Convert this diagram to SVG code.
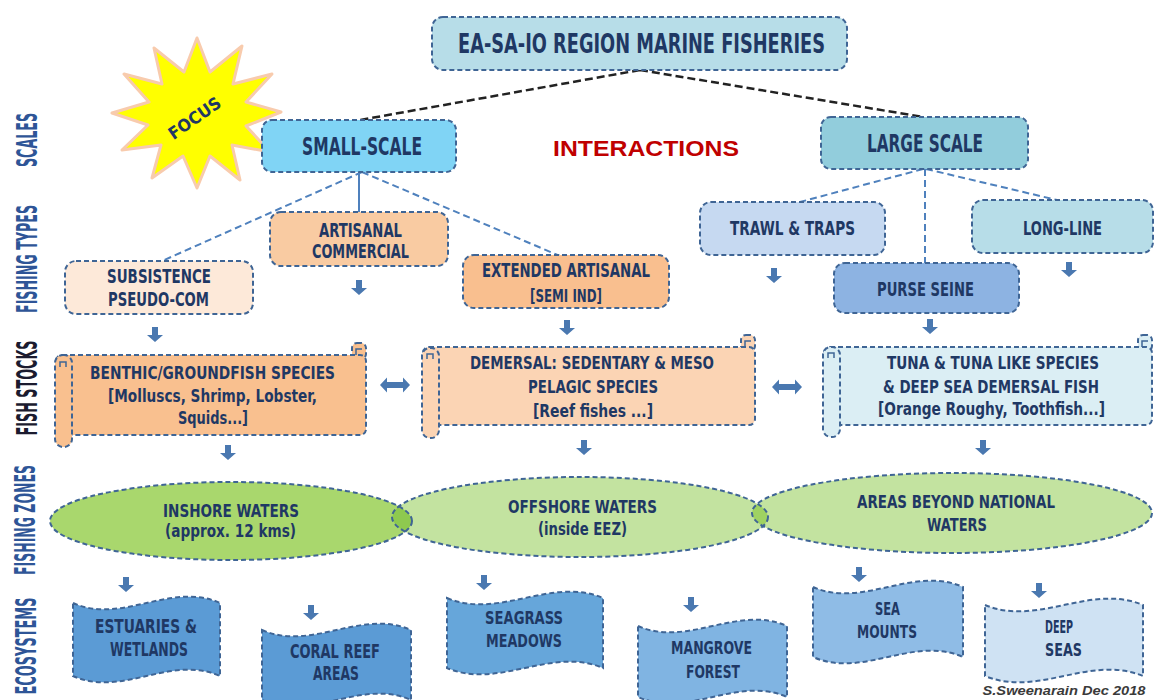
<svg xmlns="http://www.w3.org/2000/svg" width="1154" height="700" viewBox="0 0 1154 700">
  <defs>
    <style>
      .box { stroke: #3f6595; stroke-width: 2; stroke-dasharray: 5 3; }
      .t { font-family: "Liberation Sans Narrow", "DejaVu Sans Condensed", "DejaVu Sans", sans-serif; font-weight: bold; font-stretch: condensed; fill: #1f3864; text-anchor: middle; }
      .ax { font-family: "Liberation Sans Narrow", "DejaVu Sans Condensed", "DejaVu Sans", sans-serif; font-weight: bold; font-stretch: condensed; fill: #2e5597; text-anchor: middle; font-size: 28px; }
      .link { fill: none; stroke: #4f81bd; stroke-width: 2; }
      .dash { stroke-dasharray: 7 4; }
      .top { fill: none; stroke: #222; stroke-width: 2.5; stroke-dasharray: 8 4; }
      .arr { fill: #4a78b0; }
    </style>
    <path id="down" d="M-3,0 H3 V8 H8 L0,15 L-8,8 H-3 Z"/>
    <path id="both" d="M-15,0 L-8,-7.5 V-3 H8 V-7.5 L15,0 L8,7.5 V3 H-8 V7.5 Z"/>
    <clipPath id="clipInshore"><ellipse cx="231" cy="521" rx="181" ry="39"/></clipPath>
    <clipPath id="clipAbnj"><ellipse cx="952" cy="513" rx="200" ry="40"/></clipPath>
  </defs>

  <rect width="1154" height="700" fill="#ffffff"/>

  <!-- row headings -->
  <g id="row-labels">
    <text class="ax" transform="translate(37,140) rotate(-90)" textLength="54" lengthAdjust="spacingAndGlyphs">SCALES</text>
    <text class="ax" transform="translate(37,259) rotate(-90)" textLength="108" lengthAdjust="spacingAndGlyphs">FISHING TYPES</text>
    <text class="ax" transform="translate(37,388) rotate(-90)" textLength="95" lengthAdjust="spacingAndGlyphs" style="fill:#1b1b2f">FISH STOCKS</text>
    <text class="ax" transform="translate(35,520) rotate(-90)" textLength="110" lengthAdjust="spacingAndGlyphs">FISHING ZONES</text>
    <text class="ax" transform="translate(36,646) rotate(-90)" textLength="97" lengthAdjust="spacingAndGlyphs">ECOSYSTEMS</text>
  </g>

  <!-- connectors -->
  <g id="connectors">
    <path class="top" d="M640,70 L360,120 M640,70 L923,117"/>
    <path class="link" d="M359,172 V212"/>
    <path class="link dash" d="M362,172 L162,261 M362,172 L560,256"/>
    <path class="link dash" d="M923,169 L800,202 M925,169 V263 M926,169 L1057,200"/>
    <g class="arr">
      <use href="#down" x="155" y="327"/>
      <use href="#down" x="359" y="280"/>
      <use href="#down" x="567" y="320"/>
      <use href="#down" x="774" y="268"/>
      <use href="#down" x="1069" y="262"/>
      <use href="#down" x="930" y="319"/>
      <use href="#down" x="228" y="445"/>
      <use href="#down" x="584" y="440"/>
      <use href="#down" x="983" y="440"/>
      <use href="#down" x="126" y="577"/>
      <use href="#down" x="311" y="605"/>
      <use href="#down" x="484" y="575"/>
      <use href="#down" x="691" y="597"/>
      <use href="#down" x="859" y="567"/>
      <use href="#down" x="1039" y="583"/>
      <use href="#both" x="395" y="385"/>
      <use href="#both" x="787" y="387"/>
    </g>
  </g>

  <!-- top of the hierarchy -->
  <g id="region">
    <rect class="box" x="432" y="17" width="415" height="53" rx="11" fill="#b7dde8"/>
    <text class="t" x="641.5" y="53" font-size="26" textLength="367" lengthAdjust="spacingAndGlyphs">EA-SA-IO REGION  MARINE FISHERIES</text>
  </g>

  <g id="focus">
    <polygon points="281,112 246,126 270,152 232,145 240,180 210,156 197,188 183,156 152,178 161,145 122,150 148,125 112,113 149,102 124,74 162,84 154,48 184,72 197,38 210,72 242,46 233,84 272,74 246,102" fill="#ffff00" stroke="#f8cbad" stroke-width="3" stroke-linejoin="round"/>
    <text class="t" transform="translate(198,123) rotate(-35)" font-size="17" textLength="60" lengthAdjust="spacingAndGlyphs">FOCUS</text>
  </g>

  <g id="small-scale">
    <rect class="box" x="262" y="120" width="194" height="52" rx="10" fill="#80d4f5"/>
    <text class="t" x="362" y="155" font-size="24" textLength="120" lengthAdjust="spacingAndGlyphs">SMALL-SCALE</text>
  </g>

  <g id="interactions">
    <text x="646" y="156" font-family="Liberation Sans, Arial, sans-serif" font-weight="bold" font-size="22" fill="#c00000" text-anchor="middle" textLength="186" lengthAdjust="spacingAndGlyphs">INTERACTIONS</text>
  </g>

  <g id="large-scale">
    <rect class="box" x="821" y="117" width="207" height="52" rx="10" fill="#92cddc"/>
    <text class="t" x="925" y="152" font-size="24" textLength="116" lengthAdjust="spacingAndGlyphs">LARGE SCALE</text>
  </g>

  <!-- fishing types -->
  <g id="subsistence">
    <rect class="box" x="65" y="261" width="188" height="53" rx="11" fill="#fde9d9"/>
    <text class="t" x="159" y="283" font-size="19" textLength="104" lengthAdjust="spacingAndGlyphs">SUBSISTENCE</text>
    <text class="t" x="158.5" y="306" font-size="19" textLength="101" lengthAdjust="spacingAndGlyphs">PSEUDO-COM</text>
  </g>

  <g id="artisanal">
    <rect class="box" x="270" y="212" width="178" height="54" rx="11" fill="#f9cba2"/>
    <text class="t" x="360.5" y="237" font-size="19" textLength="83" lengthAdjust="spacingAndGlyphs">ARTISANAL</text>
    <text class="t" x="360.5" y="258" font-size="19" textLength="97" lengthAdjust="spacingAndGlyphs">COMMERCIAL</text>
  </g>

  <g id="extended-artisanal">
    <rect class="box" x="463" y="255" width="206" height="53" rx="11" fill="#f9bf8f"/>
    <text class="t" x="566" y="277" font-size="19" textLength="168" lengthAdjust="spacingAndGlyphs">EXTENDED ARTISANAL</text>
    <text class="t" x="566" y="302" font-size="17" textLength="72" lengthAdjust="spacingAndGlyphs">[SEMI IND]</text>
  </g>

  <g id="trawl-traps">
    <rect class="box" x="700" y="202" width="185" height="53" rx="11" fill="#c6d9f1"/>
    <text class="t" x="792.5" y="235" font-size="19" textLength="125" lengthAdjust="spacingAndGlyphs">TRAWL &amp; TRAPS</text>
  </g>

  <g id="long-line">
    <rect class="box" x="972" y="200" width="181" height="53" rx="11" fill="#b7dde8"/>
    <text class="t" x="1062.5" y="235" font-size="20" textLength="79" lengthAdjust="spacingAndGlyphs">LONG-LINE</text>
  </g>

  <g id="purse-seine">
    <rect class="box" x="834" y="263" width="185" height="50" rx="11" fill="#8db3e2"/>
    <text class="t" x="925.5" y="296" font-size="19" textLength="97" lengthAdjust="spacingAndGlyphs">PURSE SEINE</text>
  </g>

  <!-- fish stocks (scrolls) -->
  <g id="benthic">
    <rect class="box" x="352" y="343" width="14" height="16" rx="5" fill="#f9c08f"/>
    <rect class="box" x="56" y="355" width="310" height="80" rx="6" fill="#f9c08f"/>
    <rect class="box" x="55" y="355" width="17" height="92" rx="8" fill="#f9c08f"/>
    <path d="M60,367 v-5 h6 v5" fill="none" stroke="#3f6595" stroke-width="1.5"/>
    <path d="M356,355 v-6 h6" fill="none" stroke="#3f6595" stroke-width="1.5"/>
    <text class="t" x="212.5" y="379" font-size="18" textLength="245" lengthAdjust="spacingAndGlyphs">BENTHIC/GROUNDFISH SPECIES</text>
    <text class="t" x="212.5" y="402" font-size="18" textLength="209" lengthAdjust="spacingAndGlyphs">[Molluscs, Shrimp, Lobster,</text>
    <text class="t" x="213" y="424" font-size="18" textLength="70" lengthAdjust="spacingAndGlyphs">Squids...]</text>
  </g>

  <g id="demersal">
    <rect class="box" x="741" y="335" width="14" height="16" rx="5" fill="#fbd4b4"/>
    <rect class="box" x="423" y="347" width="332" height="78" rx="6" fill="#fbd4b4"/>
    <rect class="box" x="422" y="348" width="17" height="90" rx="8" fill="#fbd4b4"/>
    <path d="M427,359 v-5 h6 v5" fill="none" stroke="#3f6595" stroke-width="1.5"/>
    <path d="M745,347 v-6 h6" fill="none" stroke="#3f6595" stroke-width="1.5"/>
    <text class="t" x="592" y="369" font-size="18" textLength="244" lengthAdjust="spacingAndGlyphs">DEMERSAL: SEDENTARY &amp; MESO</text>
    <text class="t" x="593" y="393" font-size="18" textLength="130" lengthAdjust="spacingAndGlyphs">PELAGIC SPECIES</text>
    <text class="t" x="593" y="417" font-size="18" textLength="120" lengthAdjust="spacingAndGlyphs">[Reef fishes ...]</text>
  </g>

  <g id="tuna">
    <rect class="box" x="1138" y="335" width="14" height="16" rx="5" fill="#dbeef4"/>
    <rect class="box" x="824" y="347" width="328" height="78" rx="6" fill="#dbeef4"/>
    <rect class="box" x="823" y="347" width="17" height="90" rx="8" fill="#dbeef4"/>
    <path d="M828,358 v-5 h6 v5" fill="none" stroke="#3f6595" stroke-width="1.5"/>
    <path d="M1142,347 v-6 h6" fill="none" stroke="#3f6595" stroke-width="1.5"/>
    <text class="t" x="993" y="369" font-size="18" textLength="212" lengthAdjust="spacingAndGlyphs">TUNA &amp; TUNA LIKE SPECIES</text>
    <text class="t" x="991" y="393" font-size="18" textLength="216" lengthAdjust="spacingAndGlyphs">&amp; DEEP SEA DEMERSAL FISH</text>
    <text class="t" x="991.5" y="415" font-size="17" textLength="227" lengthAdjust="spacingAndGlyphs">[Orange Roughy, Toothfish...]</text>
  </g>

  <!-- fishing zones -->
  <g id="zones">
    <g id="inshore">
      <ellipse cx="231" cy="521" rx="181" ry="39" fill="#a9d76d"/>
    </g>
    <g id="offshore">
      <ellipse cx="580" cy="517" rx="188" ry="40" fill="#c3e3a0"/>
    </g>
    <g id="abnj">
      <ellipse cx="952" cy="513" rx="200" ry="40" fill="#c3e3a0"/>
    </g>
    <ellipse cx="580" cy="517" rx="188" ry="40" fill="#8ec94f" clip-path="url(#clipInshore)"/>
    <ellipse cx="580" cy="517" rx="188" ry="40" fill="#9fd262" clip-path="url(#clipAbnj)"/>
    <ellipse class="box" cx="231" cy="521" rx="181" ry="39" fill="none"/>
    <ellipse class="box" cx="580" cy="517" rx="188" ry="40" fill="none"/>
    <ellipse class="box" cx="952" cy="513" rx="200" ry="40" fill="none"/>
    <text class="t" x="231" y="517" font-size="18" textLength="136" lengthAdjust="spacingAndGlyphs">INSHORE WATERS</text>
    <text class="t" x="230.5" y="537" font-size="18" textLength="131" lengthAdjust="spacingAndGlyphs">(approx. 12 kms)</text>
    <text class="t" x="582.5" y="513" font-size="18" textLength="149" lengthAdjust="spacingAndGlyphs">OFFSHORE WATERS</text>
    <text class="t" x="582.5" y="535" font-size="18" textLength="89" lengthAdjust="spacingAndGlyphs">(inside EEZ)</text>
    <text class="t" x="956" y="508" font-size="18" textLength="198" lengthAdjust="spacingAndGlyphs">AREAS BEYOND NATIONAL</text>
    <text class="t" x="957" y="531" font-size="18" textLength="60" lengthAdjust="spacingAndGlyphs">WATERS</text>
  </g>

  <!-- ecosystems (wave banners) -->
  <g id="estuaries">
    <path class="box" d="M73,603 C122,625 171,581 220,603 L220,676 C171,654 122,698 73,676 Z" fill="#5b9bd5"/>
    <text class="t" x="146" y="633" font-size="19" textLength="102" lengthAdjust="spacingAndGlyphs">ESTUARIES &amp;</text>
    <text class="t" x="149" y="656" font-size="19" textLength="78" lengthAdjust="spacingAndGlyphs">WETLANDS</text>
  </g>
  <g id="coral-reef">
    <path class="box" d="M262,630 C312,652 361,608 411,630 L411,700 C361,678 312,722 262,700 Z" fill="#5b9bd5"/>
    <text class="t" x="335" y="658" font-size="19" textLength="90" lengthAdjust="spacingAndGlyphs">CORAL REEF</text>
    <text class="t" x="336" y="680" font-size="19" textLength="46" lengthAdjust="spacingAndGlyphs">AREAS</text>
  </g>
  <g id="seagrass">
    <path class="box" d="M447,598 C499,620 551,576 603,598 L603,668 C551,646 499,690 447,668 Z" fill="#66a6da"/>
    <text class="t" x="524" y="624" font-size="18" textLength="78" lengthAdjust="spacingAndGlyphs">SEAGRASS</text>
    <text class="t" x="524" y="647" font-size="18" textLength="76" lengthAdjust="spacingAndGlyphs">MEADOWS</text>
  </g>
  <g id="mangrove">
    <path class="box" d="M638,626 C688,648 737,604 787,626 L787,697 C737,675 688,719 638,697 Z" fill="#80b4e2"/>
    <text class="t" x="711.5" y="654" font-size="18" textLength="81" lengthAdjust="spacingAndGlyphs">MANGROVE</text>
    <text class="t" x="713" y="678" font-size="18" textLength="54" lengthAdjust="spacingAndGlyphs">FOREST</text>
  </g>
  <g id="sea-mounts">
    <path class="box" d="M813,587 C863,609 913,565 963,587 L963,657 C913,635 863,679 813,657 Z" fill="#8fbce6"/>
    <text class="t" x="887.5" y="615" font-size="18" textLength="25" lengthAdjust="spacingAndGlyphs">SEA</text>
    <text class="t" x="887" y="638" font-size="18" textLength="60" lengthAdjust="spacingAndGlyphs">MOUNTS</text>
  </g>
  <g id="deep-seas">
    <path class="box" d="M985,605 C1038,627 1090,583 1143,605 L1143,676 C1090,654 1038,698 985,676 Z" fill="#cfe2f3"/>
    <text class="t" x="1059" y="633" font-size="18" textLength="28" lengthAdjust="spacingAndGlyphs">DEEP</text>
    <text class="t" x="1063.5" y="656" font-size="18" textLength="37" lengthAdjust="spacingAndGlyphs">SEAS</text>
  </g>

  <text x="1064" y="695" font-family="Liberation Sans, Arial, sans-serif" font-style="italic" font-weight="bold" font-size="13" fill="#3a3a3a" text-anchor="middle" textLength="163" lengthAdjust="spacingAndGlyphs">S.Sweenarain Dec 2018</text>
</svg>
